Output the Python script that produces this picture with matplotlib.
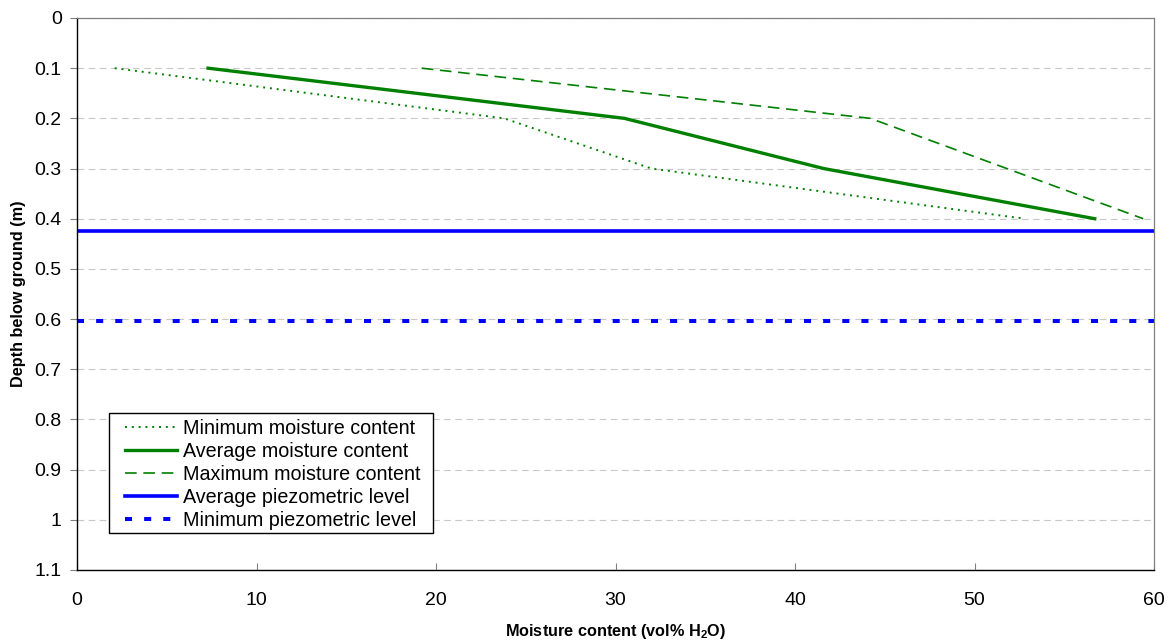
import matplotlib
matplotlib.use("Agg")
import matplotlib.pyplot as plt
from matplotlib.patches import Rectangle
import numpy as np

plt.rcParams['font.family'] = ['Liberation Sans', 'DejaVu Sans']

depth = [0.1, 0.2, 0.3, 0.4]
min_moist = [2.1, 23.8, 32.0, 52.8]
avg_moist = [7.3, 30.5, 41.6, 56.7]
max_moist = [19.2, 44.2, 51.8, 59.4]
avg_piezo = 0.425
min_piezo = 0.603
y_ticks = [0, 0.1, 0.2, 0.3, 0.4, 0.5, 0.6, 0.7, 0.8, 0.9, 1.0, 1.1]
y_tick_labels = ['0', '0.1', '0.2', '0.3', '0.4', '0.5', '0.6', '0.7', '0.8', '0.9', '1', '1.1']
x_ticks = [0, 10, 20, 30, 40, 50, 60]

fig = plt.figure(figsize=(11.74, 6.42), dpi=100)
ax = fig.add_axes([77/1174, 1-570/642, (1154-77)/1174, (570-18)/642])

green = '#008000'
blue = '#0000FF'

ax.plot(min_moist, depth, color=green, lw=1.4, ls=(0, (1, 2.5)), label='Minimum moisture content')
ax.plot(avg_moist, depth, color=green, lw=2.4, ls='-', label='Average moisture content')
ax.plot(max_moist, depth, color=green, lw=1.2, ls=(0, (7, 4)), label='Maximum moisture content')
ax.axhline(avg_piezo, color=blue, lw=2.6, ls='-', label='Average piezometric level')
ax.axhline(min_piezo, color=blue, lw=2.9, ls=(0, (1.75, 3)), label='Minimum piezometric level')

ax.set_xlim(0, 60)
ax.set_ylim(1.1, 0)
ax.set_xticks(x_ticks)
ax.set_yticks(y_ticks)
ax.set_yticklabels(y_tick_labels)
ax.yaxis.grid(True, color='#c8c8c8', ls=(0, (6, 4)), lw=0.8)
ax.set_axisbelow(True)

ax.tick_params(axis='y', direction='out', length=5, width=0.8, color='#808080', labelsize=14, pad=6)
ax.tick_params(axis='x', direction='in', length=5, width=0.8, color='#808080', labelsize=14, pad=16)

for s in ['top', 'right']:
    ax.spines[s].set_color('#808080')
    ax.spines[s].set_linewidth(0.9)
for s in ['left', 'bottom']:
    ax.spines[s].set_color('black')
    ax.spines[s].set_linewidth(1.0)

ax.set_xlabel('Moisture content (vol% H$_\\mathregular{2}$O)', fontsize=11.7, fontweight='bold', labelpad=9)
ax.set_ylabel('Depth below ground (m)', fontsize=11.7, fontweight='bold', labelpad=6)

# legend frame drawn separately in figure pixels (inside the axes so the legend sits on top)
frame = Rectangle((109/1174, 1-533/642), (433-109)/1174, (533-413)/642, transform=fig.transFigure,
                  facecolor='white', edgecolor='black', lw=1.0, zorder=4, clip_on=False)
ax.add_patch(frame)

leg = ax.legend(loc='upper left', bbox_to_anchor=(125/1174, 1-419/642), bbox_transform=fig.transFigure,
                frameon=False, fontsize=14.2, handlelength=2.65, handletextpad=0.3,
                labelspacing=0.2, borderpad=0.0, borderaxespad=0)
leg.set_zorder(5)

fig.savefig('out.png', dpi=100)
